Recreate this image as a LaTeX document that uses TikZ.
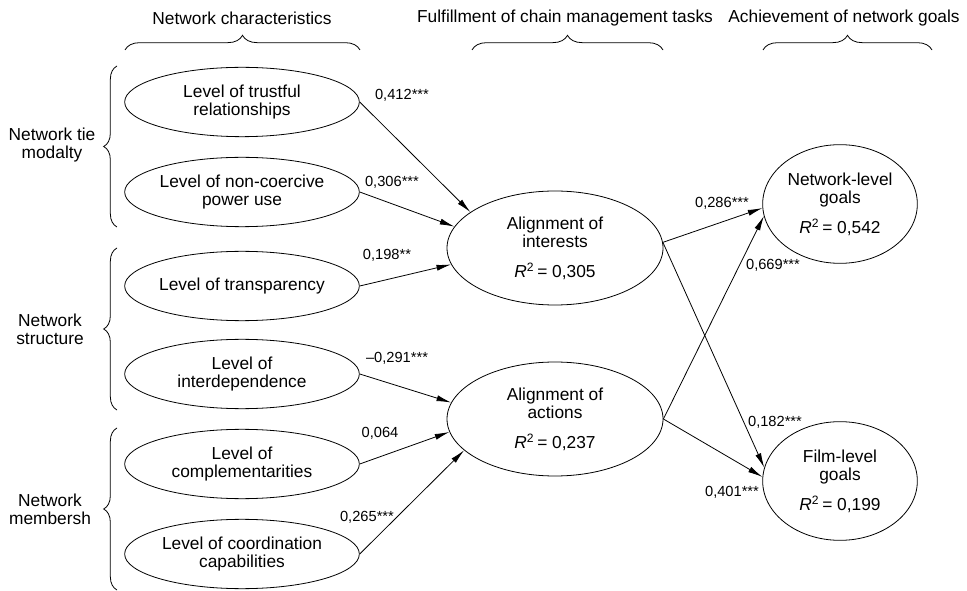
\documentclass[tikz,border=0pt]{standalone}
\usepackage{fontspec}
\setmainfont{Liberation Sans}
\usetikzlibrary{arrows.meta,decorations.pathreplacing,shapes.geometric}
\begin{document}
\begin{tikzpicture}[x=0.75pt,y=-0.75pt,
 every node/.style={font=\fontsize{13}{13.5}\selectfont},
 lbox/.style={ellipse,draw,line width=0.6pt,inner sep=0pt,minimum width=176pt,minimum height=52pt,align=center},
 mbox/.style={ellipse,draw,line width=0.6pt,inner sep=0pt,minimum width=162pt,minimum height=85.5pt,align=center},
 rbox/.style={ellipse,draw,line width=0.6pt,inner sep=0pt,minimum width=116pt,minimum height=89pt,align=center},
 arr/.style={-{Latex[length=11pt,width=4.5pt]},line width=0.6pt},
 coef/.style={font=\fontsize{11}{12}\selectfont},
 brc/.style={decorate,decoration={brace,amplitude=#1},line width=0.6pt},
 grp/.style={align=center}
]
\useasboundingbox (0,0) rectangle (967,591);

% headers
\node (h1) at (242,18) {Network characteristics};
\node (h2) at (565,18) {Fulfillment of chain management tasks};
\node (h3) at (844,18) {Achievement of network goals};
\draw[brc=11pt] (125,50) -- (360,50);
\draw[brc=11pt] (472,50) -- (663,50);
\draw[brc=11pt] (763,50) -- (932,50);

% group labels and braces
\node[grp] (g1) at (52,145) {Network tie\\modalty};
\node[grp] (g2) at (50,329) {Network\\structure};
\node[grp] (g3) at (50,509) {Network\\membersh};
\draw[brc=10pt] (117,227) -- (117,66);
\draw[brc=10pt] (117,410) -- (117,248);
\draw[brc=10pt] (117,590) -- (117,428);

% left ellipses
\node[lbox] (t1) at (242,102) {Level of trustful\\relationships};
\node[lbox] (t2) at (242,192) {Level of non-coercive\\power use};
\node[lbox] (t3) at (242,286) {Level of transparency};
\node[lbox] (t4) at (242,374) {Level of\\interdependence};
\node[lbox] (t5) at (242,464) {Level of\\complementarities};
\node[lbox] (t6) at (242,554) {Level of coordination\\capabilities};

% middle ellipses
\node[mbox] (ai) at (555,248) {Alignment of\\interests\\[9pt]\textit{R}\textsuperscript{2}\,= 0,305};
\node[mbox] (ac) at (555,419) {Alignment of\\actions\\[9pt]\textit{R}\textsuperscript{2}\,= 0,237};

% right ellipses
\node[rbox] (ng) at (840,204) {Network-level\\goals\\[9pt]\textit{R}\textsuperscript{2}\,= 0,542};
\node[rbox] (fg) at (840,481) {Film-level\\goals\\[9pt]\textit{R}\textsuperscript{2}\,= 0,199};

% arrows
\draw[arr] (t1.east) -- (ai.157);
\draw[arr] (t2.east) -- (ai.168);
\draw[arr] (t3.east) -- (ai.189);
\draw[arr] (t4.east) -- (ac.171);
\draw[arr] (t5.east) -- (ac.187);
\draw[arr] (t6.east) -- (ac.199);
\draw[arr] (ai.3) -- (ng.183);
\draw[arr] (ai.3) -- (fg.170);
\draw[arr] (ac.east) -- (ng.189);
\draw[arr] (ac.east) -- (fg.177);

% coefficients
\node[coef] (c1) at (402,95) {0,412***};
\node[coef] (c2) at (392,182) {0,306***};
\node[coef] (c3) at (387,255) {0,198**};
\node[coef] (c4) at (397,358) {--0,291***};
\node[coef] (c5) at (380,433) {0,064};
\node[coef] (c6) at (367,517) {0,265***};
\node[coef] (c7) at (722,203) {0,286***};
\node[coef] (c8) at (773,265) {0,669***};
\node[coef] (c9) at (775,422) {0,182***};
\node[coef] (c10) at (732,492) {0,401***};
\end{tikzpicture}
\end{document}
